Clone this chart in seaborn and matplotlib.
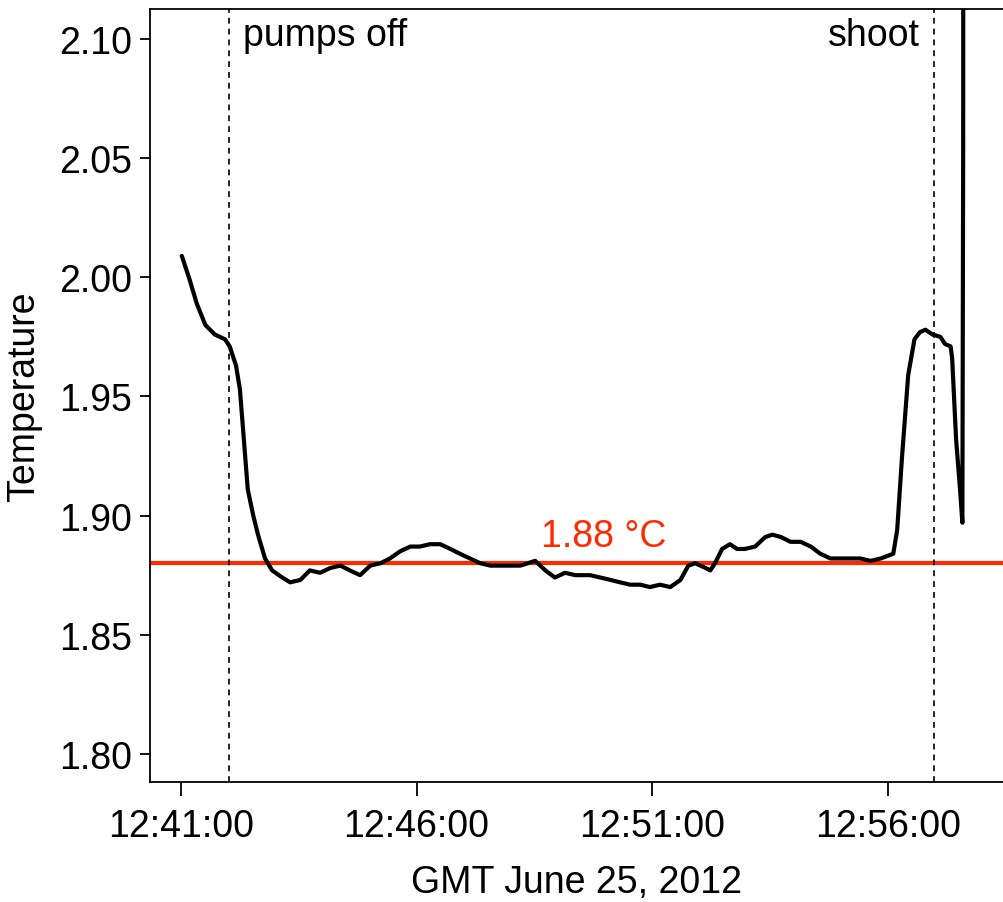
import matplotlib
matplotlib.use("Agg")
import matplotlib.pyplot as plt
import matplotlib.dates as mdates
import seaborn as sns
import pandas as pd

sns.set_theme(style="ticks")
plt.rcParams['font.family'] = ['Liberation Sans', 'DejaVu Sans']
for key in ["text.color", "axes.labelcolor", "xtick.color", "ytick.color",
            "axes.edgecolor"]:
    plt.rcParams[key] = "black"

# seconds after 12:41:00 GMT and temperature readings
secs = [1, 11, 20, 31, 43, 56, 62, 70, 75, 80, 85, 92, 98, 107, 116, 129, 139,
        152, 164, 177, 190, 203, 215, 228, 241, 254, 266, 279, 292, 304, 317,
        330, 343, 355, 368, 381, 394, 406, 419, 432, 451, 464, 476, 489, 502,
        521, 534, 547, 559, 572, 585, 597, 610, 623, 636, 646, 655, 668, 674,
        680, 689, 699, 708, 718, 731, 744, 753, 764, 776, 789, 802, 814, 827,
        846, 865, 878, 891, 907, 912, 918, 926, 934, 941, 948, 957, 967, 973,
        980, 982, 987, 992, 995, 996, 996.5]
temps = [2.009, 1.999, 1.989, 1.980, 1.976, 1.974, 1.971, 1.963, 1.953, 1.932,
         1.911, 1.900, 1.892, 1.882, 1.877, 1.874, 1.872, 1.873, 1.877, 1.876,
         1.878, 1.879, 1.877, 1.875, 1.879, 1.880, 1.882, 1.885, 1.887, 1.887,
         1.888, 1.888, 1.886, 1.884, 1.882, 1.880, 1.879, 1.879, 1.879, 1.879,
         1.881, 1.877, 1.874, 1.876, 1.875, 1.875, 1.874, 1.873, 1.872, 1.871,
         1.871, 1.870, 1.871, 1.870, 1.873, 1.879, 1.880, 1.878, 1.877, 1.880,
         1.886, 1.888, 1.886, 1.886, 1.887, 1.891, 1.892, 1.891, 1.889, 1.889,
         1.887, 1.884, 1.882, 1.882, 1.882, 1.881, 1.882, 1.884, 1.894, 1.924,
         1.959, 1.974, 1.977, 1.978, 1.976, 1.975, 1.972, 1.971, 1.966, 1.932,
         1.911, 1.897, 2.052, 2.300]

start = pd.Timestamp("2012-06-25 12:41:00")
pumps_off = 61     # s after start
shoot = 959
mean_temp = 1.88

df = pd.DataFrame({"time": start + pd.to_timedelta(secs, unit="s"),
                   "temp": temps})

fig = plt.figure(figsize=(10.04, 9.03), dpi=100)
ax = fig.add_axes([0.1494, 0.1329, 0.8506, 0.856])

ax.axhline(mean_temp, color="#ff2a00", lw=3)
sns.lineplot(data=df, x="time", y="temp", ax=ax, color="black", lw=3)
for s in [pumps_off, shoot]:
    ax.axvline(start + pd.Timedelta(seconds=s), color="black", lw=1.2,
               ls=(0, (3.5, 3)))

ax.text(start + pd.Timedelta(seconds=pumps_off + 18), 2.1015, "pumps off",
        fontsize=27, va="center", ha="left")
ax.text(start + pd.Timedelta(seconds=shoot - 18), 2.1015, "shoot",
        fontsize=27, va="center", ha="right")
ax.text(start + pd.Timedelta(seconds=538), mean_temp + 0.004,
        "1.88 \u00b0C", color="#ff2a00", fontsize=27, ha="center", va="bottom")

ax.set_xlim(start - pd.Timedelta(seconds=39.5), start + pd.Timedelta(seconds=1048))
ax.set_ylim(1.7882, 2.1126)
ax.set_yticks([1.80, 1.85, 1.90, 1.95, 2.00, 2.05, 2.10])
ax.yaxis.set_major_formatter(matplotlib.ticker.FormatStrFormatter("%.2f"))
ax.xaxis.set_major_locator(mdates.MinuteLocator(byminute=[41, 46, 51, 56]))
ax.xaxis.set_major_formatter(mdates.DateFormatter("%H:%M:%S"))

ax.spines["right"].set_visible(False)
for sp in ax.spines.values():
    sp.set_linewidth(1.3)
ax.tick_params(axis="x", direction="out", length=10, width=1.3, pad=9, labelsize=27)
ax.tick_params(axis="y", direction="out", length=7, width=1.3, pad=6, labelsize=27)
ax.set_xlabel("GMT June 25, 2012", fontsize=27, labelpad=14)
ax.set_ylabel("Temperature", fontsize=27, labelpad=12)

fig.savefig("out.png", dpi=100)
